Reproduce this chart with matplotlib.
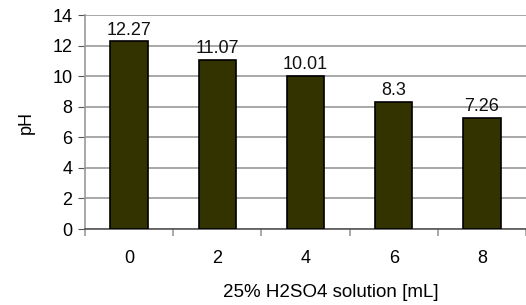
import numpy as np
import matplotlib
matplotlib.use("Agg")
import matplotlib.pyplot as plt

plt.rcParams['font.family'] = ['Liberation Sans', 'DejaVu Sans']

volumes = ["0", "2", "4", "6", "8"]
ph = [12.27, 11.07, 10.01, 8.3, 7.26]
ph_labels = ["12.27", "11.07", "10.01", "8.3", "7.26"]

fig = plt.figure(figsize=(5.26, 3.05), dpi=100)
ax = fig.add_axes([85/526, 76/305, 1 - 85/526, 214/305])

x = np.arange(len(volumes))
ax.bar(x, ph, width=0.425, color="#333300", edgecolor="black", linewidth=1.2, zorder=3)

for xi, v, lab in zip(x, ph, ph_labels):
    ax.annotate(lab, (xi, v), xytext=(0, 2), textcoords="offset points",
                ha="center", va="bottom", fontsize=13, color="#111111")

ax.set_xlim(-0.5, 4.43)
ax.set_ylim(0, 14)
ax.set_yticks(np.arange(0, 15, 2))
ax.set_xticks(x)
ax.set_xticklabels(volumes)
ax.set_xticks(np.arange(-0.5, 5, 1), minor=True)

ax.grid(axis="y", color="#999999", linewidth=1.2, zorder=0)
for s in ["top", "right"]:
    ax.spines[s].set_visible(False)
ax.spines["left"].set_color("#999999")
ax.spines["left"].set_linewidth(1.2)
ax.spines["bottom"].set_color("#555555")
ax.spines["bottom"].set_linewidth(1.2)

ax.tick_params(axis="y", length=5, color="#555555", labelsize=13, pad=4)
ax.tick_params(axis="x", which="major", length=0, labelsize=13, pad=15)
ax.tick_params(axis="x", which="minor", length=5, color="#999999", width=1.2)

ax.set_ylabel("pH", fontsize=13, labelpad=13)
ax.set_xlabel("25% H2SO4 solution [mL]", fontsize=13.5)
ax.xaxis.set_label_coords(0.557, -0.255)

fig.savefig("out.png", dpi=100)
